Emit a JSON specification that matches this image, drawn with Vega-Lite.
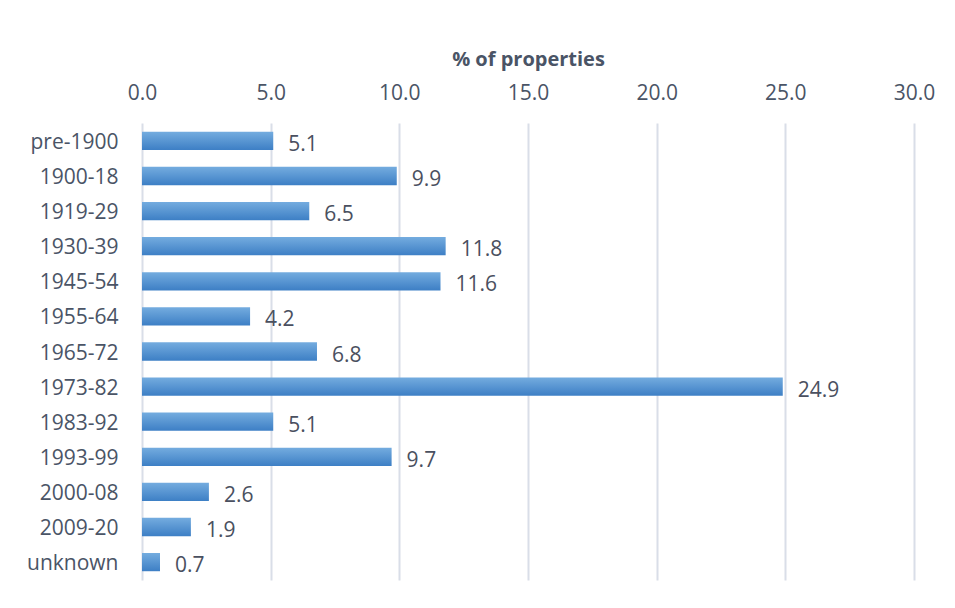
{
  "$schema": "https://vega.github.io/schema/vega-lite/v6.json",
  "autosize": "none",
  "width": 772,
  "height": 457,
  "padding": {"left": 142, "top": 123, "right": 41, "bottom": 28},
  "background": "white",
  "config": {
    "view": {"stroke": null},
    "font": "Open Sans"
  },
  "data": {
    "values": [
      {"period": "pre-1900", "pct": 5.1},
      {"period": "1900-18", "pct": 9.9},
      {"period": "1919-29", "pct": 6.5},
      {"period": "1930-39", "pct": 11.8},
      {"period": "1945-54", "pct": 11.6},
      {"period": "1955-64", "pct": 4.2},
      {"period": "1965-72", "pct": 6.8},
      {"period": "1973-82", "pct": 24.9},
      {"period": "1983-92", "pct": 5.1},
      {"period": "1993-99", "pct": 9.7},
      {"period": "2000-08", "pct": 2.6},
      {"period": "2009-20", "pct": 1.9},
      {"period": "unknown", "pct": 0.7}
    ]
  },
  "encoding": {
    "y": {
      "field": "period",
      "type": "nominal",
      "sort": null,
      "scale": {"paddingInner": 0.48, "paddingOuter": 0.25},
      "axis": {
        "title": null,
        "domain": false,
        "ticks": false,
        "labelFont": "Open Sans",
        "labelFontSize": 21,
        "labelColor": "#4A5466",
        "labelPadding": 24,
        "labelOffset": 2
      }
    },
    "x": {
      "field": "pct",
      "type": "quantitative",
      "scale": {"domain": [0, 30], "nice": false},
      "axis": {
        "orient": "top",
        "values": [0, 5, 10, 15, 20, 25, 30],
        "format": ".1f",
        "labelFlush": false,
        "title": "% of properties",
        "titleFont": "Open Sans",
        "titleFontSize": 20,
        "titleFontWeight": "bold",
        "titleColor": "#4A5466",
        "titlePadding": 13,
        "domain": false,
        "ticks": false,
        "grid": true,
        "gridColor": "#D9DEE8",
        "gridWidth": 2,
        "labelFont": "Open Sans",
        "labelFontSize": 21,
        "labelColor": "#4A5466",
        "labelPadding": 20
      }
    }
  },
  "layer": [
    {
      "mark": {
        "type": "bar",
        "color": {
          "gradient": "linear",
          "x1": 0, "y1": 0, "x2": 0, "y2": 1,
          "stops": [
            {"offset": 0, "color": "#74ACDF"},
            {"offset": 1, "color": "#3D7FC5"}
          ]
        }
      }
    },
    {
      "mark": {
        "type": "text",
        "align": "left",
        "baseline": "middle",
        "dx": 15,
        "dy": 4,
        "font": "Open Sans",
        "fontSize": 21,
        "color": "#4A5060"
      },
      "encoding": {
        "text": {"field": "pct", "type": "quantitative", "format": ".1f"}
      }
    }
  ]
}
